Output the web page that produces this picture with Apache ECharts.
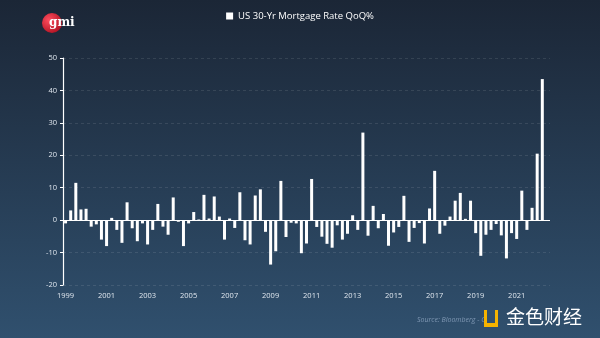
<!DOCTYPE html>
<html>
<head>
<meta charset="utf-8">
<script src="https://cdn.jsdelivr.net/npm/echarts@6/dist/echarts.min.js"></script>
<style>
html,body{margin:0;padding:0;background:#1c2838;}
#chart{width:600px;height:338px;}
</style>
</head>
<body>
<div id="chart"></div>
<script>
var seriesName = 'US 30-Yr Mortgage Rate QoQ%';
var startYear = 1999;
var quarters = [];
for (var y = 1999; y <= 2022; y++) { for (var q = 1; q <= 4; q++) { quarters.push(y + 'Q' + q); } }
quarters = quarters.slice(0, 95);
var qoqValues = [
  -1, 3, 11.5, 3.3, 3.5, -2, -1.3, -6,
  -8, 0.7, -3, -7, 5.5, -2.5, -6.5, -1,
  -7.5, -3, 5, -2, -4.5, 7, -0.5, -8,
  -1, 2.5, 0.2, 7.8, 0.5, 7.3, 1.1, -6,
  0.5, -2.4, 8.6, -6.2, -7.5, 7.6, 9.5, -3.6,
  -13.7, -9.6, 12.1, -5.2, -0.8, -1, -10.2, -7.2,
  12.7, -2.1, -5.1, -7.3, -8.5, -1.6, -6, -4.2,
  1.5, -3, 27, -4.8, 4.4, -2.5, 1.9, -7.9,
  -3.8, -2.1, 7.5, -6.7, -2.4, -0.9, -7.2, 3.6,
  15.2, -4.2, -1.7, 1.1, 6, 8.4, 0.4, 6,
  -4, -11, -4.5, -3, -1.2, -4.7, -11.8, -4,
  -5.8, 9.1, -3, 3.8, 20.5, 43.5, null
];
var yTicks = [-20, -10, 0, 10, 20, 30, 40, 50];
var sourceText = 'Source: Bloomberg - GMI';
var watermarkText = '金色财经';

var chart = echarts.init(document.getElementById('chart'), null, {renderer: 'canvas'});
chart.setOption({
  animation: false,
  backgroundColor: new echarts.graphic.LinearGradient(0, 0, 0, 1, [
    {offset: 0, color: '#1b2636'},
    {offset: 1, color: '#30506e'}
  ]),
  textStyle: {fontFamily: 'Open Sans'},
  legend: {
    top: 6, left: 'center',
    itemWidth: 7, itemHeight: 7, itemGap: 4,
    icon: 'rect',
    textStyle: {color: '#ffffff', fontSize: 9.5, fontFamily: 'Open Sans'},
    data: [seriesName]
  },
  grid: {left: 63, right: 50, top: 58, bottom: 53, containLabel: false},
  xAxis: {
    type: 'category',
    data: quarters,
    boundaryGap: true,
    axisLine: {show: false},
    axisTick: {show: false},
    axisLabel: {
      interval: 7, color: '#dfe6ee', fontSize: 7.5, margin: 7,
      formatter: function (v) { return v.slice(0, 4); }
    },
    splitLine: {show: false}
  },
  yAxis: {
    type: 'value',
    min: yTicks[0], max: yTicks[yTicks.length - 1], interval: 10,
    axisLine: {show: true, lineStyle: {color: '#ffffff', width: 1.2}},
    axisTick: {show: true, length: 3, lineStyle: {color: '#ffffff'}},
    axisLabel: {color: '#dfe6ee', fontSize: 7.5, margin: 6},
    splitLine: {show: true, lineStyle: {color: 'rgba(255,255,255,0.10)', type: [3, 3], width: 1}}
  },
  series: [{
    name: seriesName,
    type: 'bar',
    data: qoqValues,
    barWidth: 3,
    itemStyle: {color: '#ffffff'},
    markLine: {
      silent: true,
      symbol: ['none', 'none'],
      label: {show: false},
      lineStyle: {color: '#ffffff', type: 'solid', width: 1.2},
      data: [{yAxis: 0}]
    }
  }],
  graphic: [
    {
      type: 'circle', left: 42, top: 13,
      shape: {r: 10},
      style: {fill: new echarts.graphic.RadialGradient(0.35, 0.35, 0.8, [
        {offset: 0, color: '#ff4d5e'}, {offset: 1, color: '#a80c1c'}
      ])}
    },
    {
      type: 'text', left: 49, top: 17,
      style: {text: 'gmi', fill: '#ffffff', font: 'bold 12px "DejaVu Serif", serif'}
    },
    {
      type: 'text', left: 417, top: 316,
      style: {text: sourceText, fill: '#7f97b3', font: 'italic 7px "Open Sans"'}
    },
    {
      type: 'rect', left: 484, top: 310, shape: {width: 14, height: 17},
      style: {fill: '#f5b300'}
    },
    {
      type: 'rect', left: 487, top: 310, shape: {width: 8, height: 13},
      style: {fill: '#30506e'}
    },
    {
      type: 'text', left: 506, top: 307,
      style: {text: watermarkText, fill: '#ffffff', font: '19px "Noto Sans CJK SC"'}
    }
  ]
});
</script>
</body>
</html>
